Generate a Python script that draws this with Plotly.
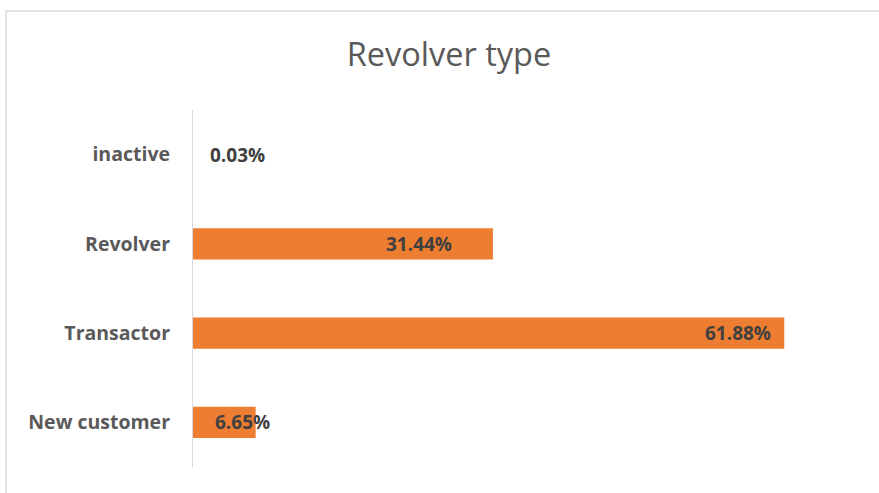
import plotly.graph_objects as go

categories = ["inactive", "Revolver", "Transactor", "New customer"]
values = [0.03, 31.44, 61.88, 6.65]
labels = ["0.03%", "31.44%", "61.88%", "6.65%"]
title_text = "Revolver type"

# label offsets (px, from bar end to label centre) as placed in the reference
label_shift = [45, -74, -46, -13]

BAR = "#ED7D31"
FONT = "Open Sans"

fig = go.Figure(go.Bar(
    x=values, y=categories, orientation="h",
    marker=dict(color=BAR, line=dict(width=0)),
    width=0.35, hoverinfo="skip",
))

for c, v, t, s in zip(categories, values, labels, label_shift):
    fig.add_annotation(x=v, y=c, xref="x", yref="y", text=f"<b>{t}</b>",
                       showarrow=False, xanchor="center", yanchor="middle",
                       xshift=s, font=dict(family=FONT, size=19, color="#404040"))

W, H = 879, 493
L, R, T, B = 192, 17, 110, 26
pw, ph = W - L - R, H - T - B

def px_x(p):
    return (p - L) / pw

def px_y(p):
    return (H - B - p) / ph

fig.add_shape(type="rect", xref="paper", yref="paper",
              x0=px_x(6), x1=px_x(W + 20), y0=px_y(H + 20), y1=px_y(11),
              line=dict(color="#D9D9D9", width=1.5), layer="below")
# category axis line, drawn over the bar bases
fig.add_shape(type="line", xref="x", yref="paper", x0=0, x1=0, y0=0, y1=1,
              line=dict(color="#D9D9D9", width=2), layer="above")

fig.update_layout(
    width=W, height=H,
    margin=dict(l=L, r=R, t=T, b=B, pad=0),
    paper_bgcolor="white", plot_bgcolor="white",
    title=dict(text=title_text, x=(449) / W, xanchor="center",
               y=1 - 55 / H, yanchor="middle", yref="container",
               font=dict(family=FONT, size=32.5, color="#595959")),
    xaxis=dict(range=[0, 70], visible=False, fixedrange=True),
    yaxis=dict(categoryorder="array", categoryarray=categories,
               autorange="reversed", showline=False,
               showgrid=False, zeroline=False, ticks="",
               ticklabelstandoff=21,
               tickfont=dict(family=FONT, size=19.5, color="#595959", weight="bold")),
    showlegend=False,
    bargap=0.65,
)

fig.write_html("out.html")
